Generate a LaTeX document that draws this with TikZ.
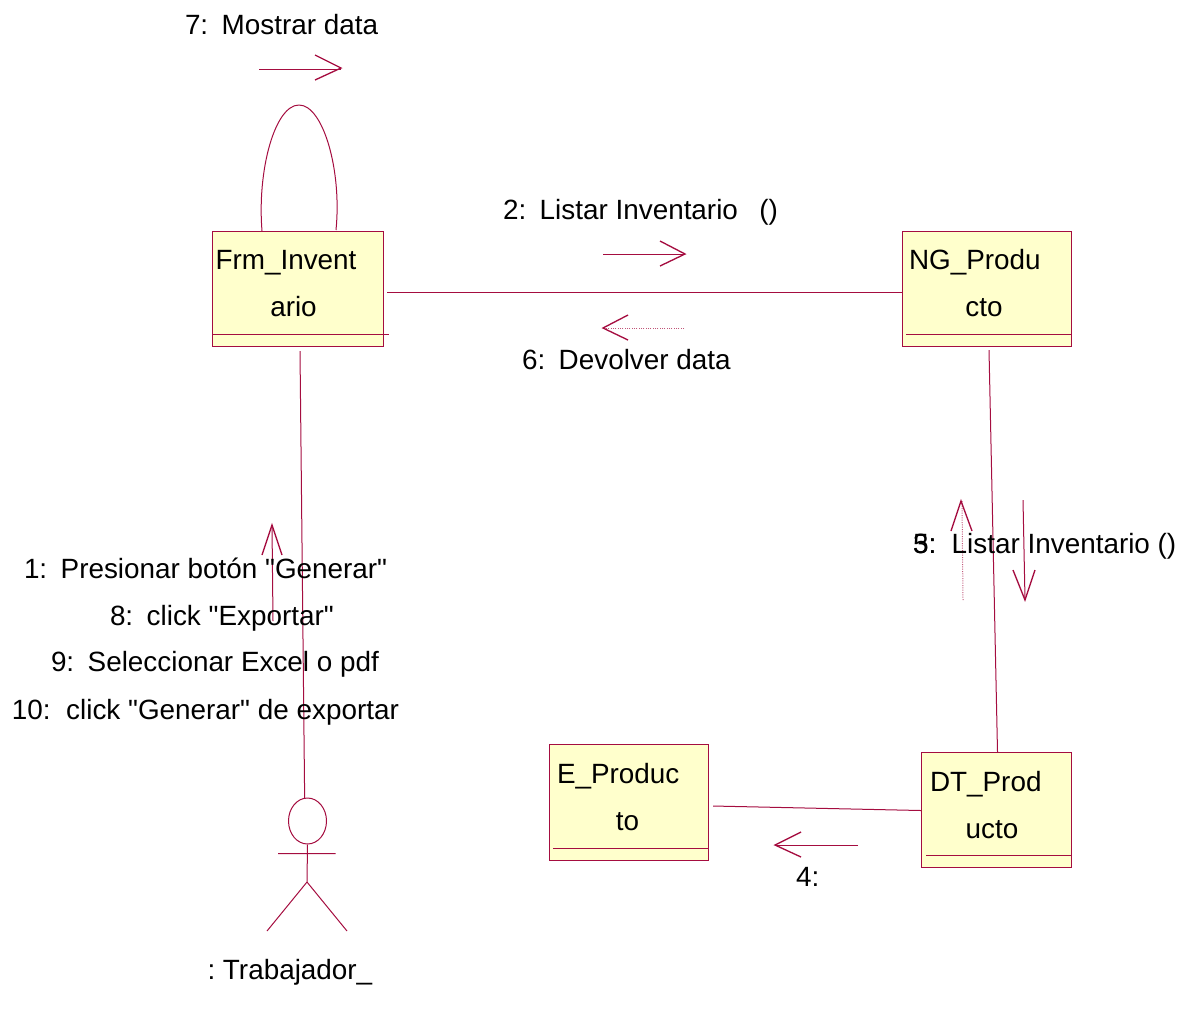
\documentclass[tikz,border=0pt]{standalone}
\usepackage{fontspec}
\setmainfont{Liberation Sans}
\newfontfamily\plainsans{Liberation Sans}
\usetikzlibrary{calc,shapes.geometric}
\definecolor{umlline}{HTML}{A50D40}
\definecolor{umlfill}{HTML}{FFFFCC}
\newcommand{\gapa}{\hspace{10.1pt}}
\tikzset{
  x=0.75pt,y=-0.75pt,
  umlbox/.style={draw=umlline,fill=umlfill,line width=0.75pt,inner sep=0pt,outer sep=0pt,anchor=north west},
  conn/.style={draw=umlline,line width=0.75pt},
  tip/.style={draw=umlline,line width=1pt},
  dotconn/.style={draw=umlline!70,line width=0.75pt,densely dotted},
  lbl/.style={font=\plainsans\frenchspacing\fontsize{20.9pt}{24pt}\selectfont,text=black,inner sep=0pt,outer sep=0pt,anchor=base west},
  lblc/.style={lbl,anchor=base},
}
\begin{document}
\begin{tikzpicture}
\useasboundingbox (0,0) rectangle (1187,1015);
% boxes
\node[umlbox,minimum width=128.25pt,minimum height=86.25pt] (frm) at (212,231) {};
\node[umlbox,minimum width=126.75pt,minimum height=86.25pt] (ng) at (902,231) {};
\node[umlbox,minimum width=119pt,minimum height=87pt] (ep) at (549.5,744) {};
\node[umlbox,minimum width=112.5pt,minimum height=86.25pt] (dt) at (921,752) {};
% compartment lines
\coordinate (frmL) at (212,334); \coordinate (frmR) at (389,334);
\coordinate (ngL) at (906,334); \coordinate (ngR) at (1071,334);
\coordinate (epL) at (553,848); \coordinate (epR) at (708,848);
\coordinate (dtL) at (926,855); \coordinate (dtR) at (1071,855);
\draw[conn] (frmL)--(frmR) (ngL)--(ngR) (epL)--(epR) (dtL)--(dtR);
% actor
\node[draw=umlline,fill=white,line width=0.75pt,ellipse,inner sep=0pt,minimum width=28.5pt,minimum height=34.5pt] (head) at (307.5,821) {};
\coordinate (hip) at (307,882);
\coordinate (armL) at (278,853.5); \coordinate (armR) at (335.5,853.5);
\coordinate (legL) at (267,931); \coordinate (legR) at (347,931);
\draw[conn] (head.south)--(hip) (armL)--(armR) (hip)--(legL) (hip)--(legR);
% connectors
\coordinate (c1a) at (387,292); \coordinate (c1b) at (902,292);
\coordinate (c2a) at (300,351); \coordinate (c3a) at (989,350); \coordinate (c3b) at (997.5,752);
\coordinate (c4a) at (713,806); \coordinate (c4b) at (921,810.5);
\draw[conn] (c1a)--(c1b);
\draw[conn] (c2a)--(head.97);
\draw[conn] (c3a)--(c3b);
\draw[conn] (c4a)--(c4b);
\draw[conn] (262,231) .. controls (257,170) and (275,105) .. (299,105) .. controls (323,105) and (342,170) .. (336,230);
% message arrows
\draw[conn] (259,69)--(341,69); \draw[tip] (315,55)--(341,68)--(315,80);
\draw[conn] (603,254)--(685,254); \draw[tip] (660,241)--(685,254)--(660,266);
\draw[dotconn] (684,328)--(603,328);
\draw[tip] (628,315)--(603,328)--(628,340);
\draw[conn] (273,621)--(272,525); \draw[tip] (262,555)--(272,525)--(282,555);
\draw[dotconn] (963,600)--(962,501);
\draw[tip] (951,531)--(961,501)--(972,531);
\draw[conn] (1023,500)--(1025,600); \draw[tip] (1013,570)--(1025,600)--(1035,570);
\draw[conn] (858,845)--(775,845); \draw[tip] (801,832)--(775,845)--(801,857);
% labels
\node[lbl] (t7) at (185,34) {7:\gapa Mostrar data};
\node[lbl] (t2) at (503,219) {2:\gapa Listar Inventario\hspace{16pt}()};
\node[lbl] (t6) at (522,369) {6:\gapa Devolver data};
\node[lbl] (t3) at (913,553) {3:\ \ Listar Inventario ()};
\node[lbl] (t5) at (913,553) {5:};
\node[lbl] (t1) at (24,578) {1:\gapa Presionar botón "Generar"};
\node[lbl] (t8) at (110,625) {8:\gapa click "Exportar"};
\node[lbl] (t9) at (51,671) {9:\gapa Seleccionar Excel o pdf};
\node[lbl] (t10) at (12,719) {10:\ \ click "Generar" de exportar};
\node[lbl] (t4) at (796,886) {4:};
\node[lbl] (ta) at (207.5,979) {: Trabajador\_};
\node[lbl] (f1) at (215.5,269) {Frm\_Invent};
\node[lblc] (f2) at (293.5,316) {ario};
\node[lbl] (n1) at (909,269) {NG\_Produ};
\node[lblc] (n2) at (984,316) {cto};
\node[lbl] (e1) at (557,783) {E\_Produc};
\node[lblc] (e2) at (627.5,830) {to};
\node[lbl] (d1) at (930,791) {DT\_Prod};
\node[lblc] (d2) at (992,838) {ucto};
\end{tikzpicture}
\end{document}
